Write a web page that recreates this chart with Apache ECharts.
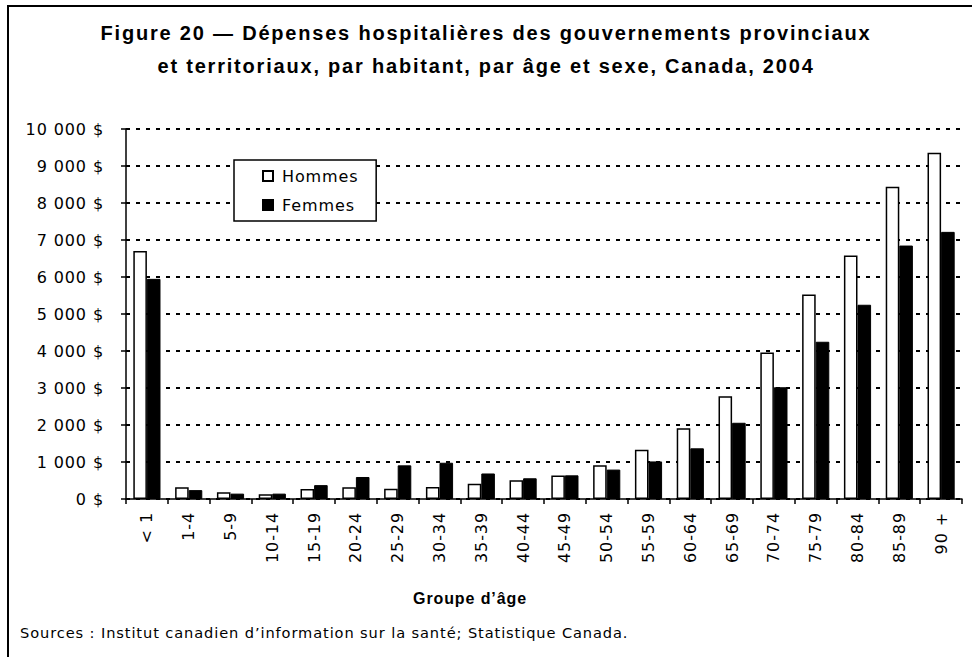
<!DOCTYPE html>
<html>
<head>
<meta charset="utf-8">
<script src="https://cdn.jsdelivr.net/npm/echarts@6/dist/echarts.min.js"></script>
<style>
  html, body { margin: 0; padding: 0; background: #fff; }
  #chart { width: 972px; height: 657px; }
  #chart text { letter-spacing: 0.9px; }
</style>
</head>
<body>
<div id="chart"></div>
<script>
// groupes d'âge
var ageGroups = ['< 1', '1-4', '5-9', '10-14', '15-19', '20-24', '25-29', '30-34', '35-39', '40-44',
  '45-49', '50-54', '55-59', '60-64', '65-69', '70-74', '75-79', '80-84', '85-89', '90 +']
// dépenses par habitant ($)
var hommes = [6700, 315, 185, 130, 270, 315, 280, 325, 415, 505,
  635, 910, 1330, 1910, 2780, 3960, 5530, 6580, 8440, 9360]
var femmes = [5950, 240, 145, 145, 375, 595, 910, 980, 690, 560,
  640, 795, 1015, 1370, 2060, 3020, 4250, 5250, 6850, 7220]
var yTicks = { min: 0, max: 10000, step: 1000 }

var font = 'DejaVu Sans'
var titleFont = 'Liberation Sans'
var titleLines = [
  'Figure 20 \u2014 Dépenses hospitalières des gouvernements provinciaux',
  'et territoriaux, par habitant, par âge et sexe, Canada, 2004'
]

function fmtDollar(v) {
  return String(v).replace(/\B(?=(\d{3})+(?!\d))/g, ' ') + ' $'
}

var chart = echarts.init(document.getElementById('chart'), null, { renderer: 'svg' })
chart.setOption({
  animation: false,
  textStyle: { fontFamily: font, color: '#000' },
  legend: {
    orient: 'vertical',
    left: 234,
    top: 160,
    padding: [8, 23, 8, 28],
    itemGap: 13,
    itemWidth: 10,
    itemHeight: 10,
    icon: 'rect',
    borderColor: '#000',
    borderWidth: 1.5,
    backgroundColor: '#fff',
    textStyle: { fontFamily: font, fontSize: 16, color: '#000', padding: [0, 0, 0, 4] },
    data: ['Hommes', 'Femmes']
  },
  grid: { left: 126, right: 10, top: 129, bottom: 158 },
  xAxis: {
    type: 'category',
    data: ageGroups,
    axisLine: { lineStyle: { color: '#000', width: 1.5 } },
    axisTick: { show: true, length: 5, lineStyle: { color: '#000', width: 1.5 } },
    axisLabel: { interval: 0, rotate: 90, margin: 13, fontSize: 16, color: '#000', fontFamily: font }
  },
  yAxis: {
    type: 'value',
    min: yTicks.min,
    max: yTicks.max,
    interval: yTicks.step,
    axisLine: { show: true, lineStyle: { color: '#000', width: 1.5 } },
    axisTick: { show: true, length: 5, lineStyle: { color: '#000', width: 1.5 } },
    axisLabel: { margin: 22, fontSize: 16, color: '#000', fontFamily: font, formatter: fmtDollar },
    splitLine: { lineStyle: { color: '#000', width: 2, type: [4, 6] } }
  },
  series: [
    {
      name: 'Hommes',
      type: 'bar',
      data: hommes,
      barGap: '0%',
      barCategoryGap: '35%',
      itemStyle: { color: '#fff', borderColor: '#000', borderWidth: 1.5 }
    },
    {
      name: 'Femmes',
      type: 'bar',
      data: femmes,
      barGap: '0%',
      barCategoryGap: '35%',
      itemStyle: { color: '#000', borderColor: '#000', borderWidth: 1 }
    }
  ],
  graphic: [
    {
      type: 'rect',
      shape: { x: 8, y: 6, width: 1000, height: 700 },
      style: { fill: 'none', stroke: '#000', lineWidth: 2 },
      silent: true
    },
    {
      type: 'text',
      x: 486,
      y: 33,
      style: { text: titleLines[0], font: 'bold 20px "' + titleFont + '"', fill: '#000', textAlign: 'center', textVerticalAlign: 'middle' }
    },
    {
      type: 'text',
      x: 486,
      y: 66,
      style: { text: titleLines[1], font: 'bold 20px "' + titleFont + '"', fill: '#000', textAlign: 'center', textVerticalAlign: 'middle' }
    },
    {
      type: 'text',
      x: 470,
      y: 598,
      style: { text: 'Groupe d\u2019âge', font: 'bold 16px "' + titleFont + '"', fill: '#000', textAlign: 'center', textVerticalAlign: 'middle' }
    },
    {
      type: 'text',
      x: 20,
      y: 632,
      style: { text: 'Sources : Institut canadien d\u2019information sur la santé; Statistique Canada.', font: '14.6px "' + font + '"', fill: '#000', textAlign: 'left', textVerticalAlign: 'middle' }
    }
  ]
})

// le titre a un espacement plus large
document.querySelectorAll('#chart text').forEach(function (t) {
  if (titleLines.indexOf(t.textContent) >= 0) t.style.letterSpacing = '1.8px'
})
</script>
</body>
</html>
